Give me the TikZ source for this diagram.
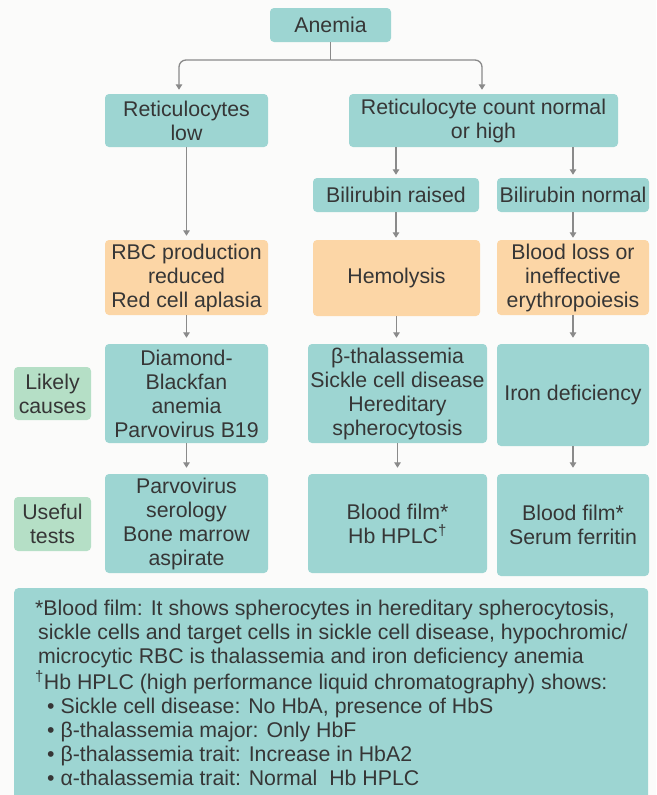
\documentclass[tikz,border=0pt]{standalone}
\usepackage{fontspec}
\setmainfont{Liberation Sans}
\usetikzlibrary{arrows.meta}
\definecolor{tealbox}{HTML}{9DD5D2}
\definecolor{orngbox}{HTML}{FCD6A6}
\definecolor{grnbox}{HTML}{B5DFC6}
\definecolor{txtcol}{HTML}{363636}
\definecolor{arrcol}{HTML}{8A8A8A}
\definecolor{bgcol}{HTML}{FBFBFA}
\begin{document}
\begin{tikzpicture}[x=1pt,y=-1pt,
  box/.style={rectangle, rounded corners=4pt, inner sep=0pt, align=center, text=txtcol, font=\fontsize{21.3}{24}\selectfont},
  tbox/.style={box, fill=tealbox},
  obox/.style={box, fill=orngbox},
  gbox/.style={box, fill=grnbox},
  line/.style={draw=arrcol, line width=1.3pt},
  conn/.style={line, -{Triangle[width=6.5pt,length=5.5pt]}, shorten >=4pt},
  fn/.style={anchor=base west, inner sep=0pt, text=txtcol, font=\fontsize{21.3}{24}\selectfont}]
\useasboundingbox (0,0) rectangle (656,795);
\fill[bgcol] (0,0) rectangle (656,795);

% row 1
\node[tbox, minimum width=121pt, minimum height=34pt] (anemia) at (330.5,25) {Anemia};
% row 2
\node[tbox, minimum width=163pt, minimum height=53pt] (retlow) at (186.5,120.5) {Reticulocytes\\low};
\node[tbox, minimum width=269pt, minimum height=53pt] (rethigh) at (483.5,120.5) {Reticulocyte count normal\\or high};
% row 3
\node[tbox, minimum width=166pt, minimum height=34pt] (bilr) at (396,195) {Bilirubin raised};
\node[tbox, minimum width=152pt, minimum height=34pt] (biln) at (573,195) {Bilirubin normal};
% row 4
\node[obox, minimum width=163pt, minimum height=75pt] (rbc) at (186.5,277.5) {RBC production\\reduced\\Red cell aplasia};
\node[obox, minimum width=167pt, minimum height=76pt] (hemo) at (396.5,278) {Hemolysis};
\node[obox, minimum width=152pt, minimum height=75pt] (bloss) at (573,277.5) {Blood loss or\\ineffective\\erythropoiesis};
% row 5
\node[gbox, minimum width=77pt, minimum height=53pt] (likely) at (52.5,393.5) {Likely\\causes};
\node[tbox, minimum width=163pt, minimum height=99pt] (dba) at (186.5,393.5) {Diamond-\\Blackfan\\anemia\\Parvovirus B19};
\node[tbox, minimum width=179pt, minimum height=99pt] (bthal) at (397.5,393.5) {β-thalassemia\\Sickle cell disease\\Hereditary\\spherocytosis};
\node[tbox, minimum width=152pt, minimum height=102pt] (iron) at (573,395) {Iron deficiency};
% row 6
\node[gbox, minimum width=77pt, minimum height=54pt] (useful) at (52.5,524) {Useful\\tests};
\node[tbox, minimum width=163pt, minimum height=99pt] (parvo) at (186.5,523.5) {Parvovirus\\serology\\Bone marrow\\aspirate};
\node[tbox, minimum width=179pt, minimum height=99pt] (bfhb) at (397.5,523.5) {Blood film*\\Hb HPLC\textsuperscript{†}};
\node[tbox, minimum width=152pt, minimum height=102pt] (bfsf) at (573,525) {Blood film*\\Serum ferritin};

% footnote box
\node[tbox, anchor=north west, minimum width=634pt, minimum height=220pt] (foot) at (14,588) {};
\node[fn] (f1) at (35,615) {*Blood film: It shows spherocytes in hereditary spherocytosis,};
\node[fn] (f2) at (38,639) {sickle cells and target cells in sickle cell disease, hypochromic/};
\node[fn] (f3) at (38,663) {microcytic RBC is thalassemia and iron deficiency anemia};
\node[fn] (f4) at (35,689) {\textsuperscript{†}Hb HPLC (high performance liquid chromatography) shows:};
\node[fn] (f5) at (47,713) {• Sickle cell disease: No HbA, presence of HbS};
\node[fn] (f6) at (47,737) {• β-thalassemia major: Only HbF};
\node[fn] (f7) at (47,761) {• β-thalassemia trait: Increase in HbA2};
\node[fn] (f8) at (47,785) {• α-thalassemia trait: Normal~ Hb HPLC};

% connectors
\coordinate (split) at (330.5,60);
\draw[line] (anemia.south) -- (split);
\draw[conn, rounded corners=7pt] (split) -| ([xshift=-7.5pt]retlow.north);
\draw[conn, rounded corners=7pt] (split) -| ([xshift=-1.5pt]rethigh.north);
\draw[conn] (retlow.south) -- (rbc.north);
\draw[conn, shorten >=3pt] (rethigh.south -| bilr.north) -- (bilr.north);
\draw[conn, shorten >=3pt] (rethigh.south -| biln.north) -- (biln.north);
\draw[conn, shorten >=2pt] (bilr.south) -- (bilr.south |- hemo.north);
\draw[conn, shorten >=2pt] (biln.south) -- (bloss.north);
\draw[conn, shorten >=6pt] (rbc.south) -- (dba.north);
\draw[conn, shorten >=6pt] (hemo.south) -- (hemo.south |- bthal.north);
\draw[conn, shorten >=6pt] (bloss.south) -- (iron.north);
\draw[conn, shorten >=6pt] (dba.south) -- (parvo.north);
\draw[conn, shorten >=6pt] (bthal.south) -- (bfhb.north);
\draw[conn, shorten >=6pt] (iron.south) -- (bfsf.north);
\end{tikzpicture}
\end{document}
